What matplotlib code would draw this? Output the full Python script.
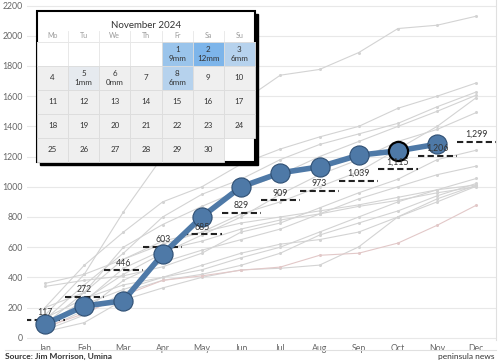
import numpy as np
import matplotlib.pyplot as plt
from matplotlib.patches import Rectangle
from matplotlib.colors import to_rgb

plt.rcParams['font.family'] = ['Lato', 'DejaVu Sans']

months = ["Jan", "Feb", "Mar", "Apr", "May", "Jun", "Jul", "Aug", "Sep", "Oct", "Nov", "Dec"]

# cumulative rainfall this year (mm), up to Nov
this_year = [91, 210, 245, 554, 801, 1000, 1092, 1132, 1209, 1238, 1282]

# monthly average of cumulative rainfall
average = [117, 272, 446, 603, 685, 829, 909, 973, 1039, 1115, 1206, 1299]

# previous years (cumulative, mm)
past_years = [
    [150, 420, 834, 1200, 1420, 1560, 1739, 1777, 1889, 2048, 2070, 2130],
    [200, 480, 700, 900, 1000, 1150, 1250, 1330, 1400, 1520, 1600, 1688],
    [120, 350, 560, 800, 950, 1050, 1180, 1280, 1350, 1420, 1530, 1628],
    [90, 300, 600, 750, 870, 980, 1080, 1200, 1300, 1400, 1500, 1607],
    [360, 420, 520, 620, 700, 820, 900, 1000, 1100, 1250, 1400, 1591],
    [80, 250, 420, 560, 680, 800, 950, 1080, 1180, 1300, 1380, 1492],
    [340, 380, 410, 470, 560, 700, 760, 860, 960, 1050, 1180, 1242],
    [60, 180, 380, 500, 580, 650, 720, 820, 920, 1000, 1080, 1137],
    [100, 220, 320, 400, 450, 530, 600, 700, 800, 900, 980, 1055],
    [50, 150, 300, 380, 420, 480, 560, 680, 760, 840, 940, 1022],
    [130, 260, 350, 400, 480, 560, 620, 650, 700, 800, 900, 1004],
    [40, 100, 250, 330, 400, 450, 460, 481, 602, 801, 920, 1010],
    [200, 300, 520, 640, 700, 760, 800, 840, 880, 930, 980, 1012],
    [60, 240, 460, 580, 640, 720, 780, 820, 870, 910, 960, 1000],
]
pink_year = [70, 160, 280, 380, 410, 447, 468, 546, 560, 627, 745, 878]

# November 2024 calendar
cal_title = "November 2024"
weekdays = ["Mo", "Tu", "We", "Th", "Fr", "Sa", "Su"]
n_days = 30
first_col = 4  # 1 Nov is a Friday
rain_days = {1: 9, 2: 12, 3: 6, 5: 1, 6: 0, 8: 6}

fig = plt.figure(figsize=(5, 3.61), dpi=100)
W, H = 500, 361
ax = fig.add_axes([27 / W, 1 - 340 / H, (496 - 27) / W, 340 / H])

x = np.arange(len(months))
for yr in past_years:
    ax.plot(x, yr, color="#d3d3d3", lw=0.8, marker="o", ms=1.2, zorder=1)
ax.plot(x, pink_year, color="#e2c8c8", lw=0.8, marker="o", ms=1.2, zorder=1)

for i, v in enumerate(average):
    ax.plot([i - 0.5, i + 0.5], [v, v], color="#222222", lw=1.5, ls=(0, (3, 1.6)), zorder=3)
    ax.text(i, v + 18, f"{v:,}", ha="center", va="bottom", fontsize=6.3, color="#333333", zorder=5)

xs = x[:len(this_year)]
ax.plot(xs, this_year, color="#4e79a7", lw=4, zorder=4)
ax.scatter(xs[:-2], this_year[:-2], s=190, color="#4e79a7", edgecolor="#2f4f73", lw=0.8, zorder=4)
ax.scatter(xs[-2:-1], this_year[-2:-1], s=190, color="#4e79a7", edgecolor="black", lw=1.6, zorder=4)
ax.scatter(xs[-1:], this_year[-1:], s=190, color="#4e79a7", edgecolor="#2f4f73", lw=0.8, zorder=4)

ax.set_xlim(-0.46, 11.5)
ax.set_ylim(-15, 2237)
ax.set_yticks(range(0, 2201, 200))
ax.set_xticks(x)
ax.set_xticklabels(months)
ax.tick_params(length=0, labelsize=6.3, colors="#666666")
ax.tick_params(axis="x", pad=3)
ax.tick_params(axis="y", pad=3)
ax.grid(axis="y", color="#e8e8e8", lw=0.8)
ax.set_axisbelow(True)
for s in ax.spines.values():
    s.set_visible(False)
ax.spines["right"].set_visible(True)
ax.spines["right"].set_color("#e0e0e0")

# frame + footer
fig.add_artist(plt.Line2D([5 / W, 496 / W], [1 - 350 / H] * 2, color="#e0e0e0", lw=0.8))
fig.text(5 / W, 1 - 356 / H, "Source: Jim Morrison, Umina", fontsize=6, fontweight="bold",
         color="#333333", va="center", ha="left")
fig.text(495 / W, 1 - 357 / H, "peninsula news", fontsize=6, color="#333333", va="center", ha="right")

# calendar overlay in pixel coordinates
cal = fig.add_axes([0, 0, 1, 1], zorder=10)
cal.set_xlim(0, W)
cal.set_ylim(H, 0)
cal.axis("off")
cal.patch.set_alpha(0)

bx0, by0, bx1, by1 = 37, 11, 255, 161.5
cal.add_patch(Rectangle((bx0 + 3, by0 + 3), bx1 - bx0, by1 - by0, color="black", zorder=1))
cal.add_patch(Rectangle((bx0, by0), bx1 - bx0, by1 - by0, facecolor="white", edgecolor="black", lw=1.5, zorder=2))
cal.text((bx0 + bx1) / 2, 26, cal_title, ha="center", va="center", fontsize=7, color="#333333", zorder=5)

cw = (bx1 - bx0) / 7
rh = 24
top = 41.5
for c, d in enumerate(weekdays):
    cal.text(bx0 + cw * (c + 0.5), 36, d, ha="center", va="center", fontsize=5, color="#999999", zorder=5)
    if c > 0:
        cal.plot([bx0 + cw * c] * 2, [31, top], color="#e6e6e6", lw=0.6, zorder=3)
cal.plot([bx0, bx1], [top, top], color="#e0e0e0", lw=0.6, zorder=3)

base = np.array(to_rgb("#efefef"))
wet = np.array(to_rgb("#7db5ea"))
for c in range(first_col):
    cal.add_patch(Rectangle((bx0 + cw * c, top), cw, rh, facecolor="white", edgecolor="#e6e6e6", lw=0.6, zorder=3))
for day in range(1, n_days + 1):
    pos = first_col + day - 1
    r, c = divmod(pos, 7)
    x0 = bx0 + cw * c
    y0 = top + rh * r
    mm = rain_days.get(day)
    if mm is None:
        fc = base
    else:
        fc = base + (wet - base) * (mm / 12)
    cal.add_patch(Rectangle((x0, y0), cw, rh, facecolor=fc, edgecolor="#dcdcdc", lw=0.6, zorder=3))
    if mm is None:
        cal.text(x0 + cw / 2, y0 + rh / 2, str(day), ha="center", va="center",
                 fontsize=5.8, color="#333333", zorder=5)
    else:
        cal.text(x0 + cw / 2, y0 + rh * 0.33, str(day), ha="center", va="center",
                 fontsize=5.8, color="#333333", zorder=5)
        cal.text(x0 + cw / 2, y0 + rh * 0.7, f"{mm}mm", ha="center", va="center",
                 fontsize=5.8, color="#333333", zorder=5)

fig.savefig("out.png", dpi=100)
